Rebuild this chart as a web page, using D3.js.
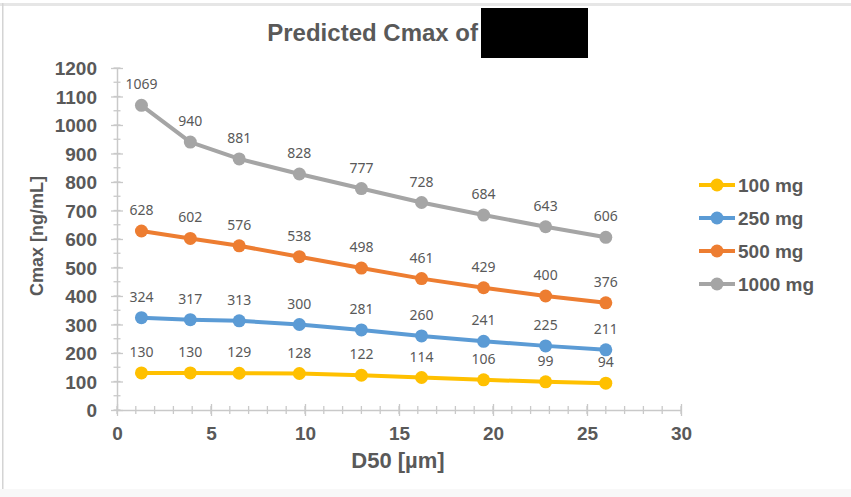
<!DOCTYPE html>
<html>
<head>
<meta charset="utf-8">
<script src="https://cdn.jsdelivr.net/npm/d3@7"></script>
<style>
  html, body { margin: 0; padding: 0; background: #ffffff; }
  svg { display: block; }
</style>
</head>
<body>
<svg id="chart" width="851" height="497"></svg>
<script>
// D50 particle size (µm) for each simulated point
const d50 = [1.3, 3.9, 6.5, 9.7, 13.0, 16.2, 19.5, 22.8, 26.0];

// Predicted Cmax (ng/mL) per dose
const cmax100 = [130, 130, 129, 128, 122, 114, 106, 99, 94];
const cmax250 = [324, 317, 313, 300, 281, 260, 241, 225, 211];
const cmax500 = [628, 602, 576, 538, 498, 461, 429, 400, 376];
const cmax1000 = [1069, 940, 881, 828, 777, 728, 684, 643, 606];

const seriesNames = ["100 mg", "250 mg", "500 mg", "1000 mg"];
const seriesColors = ["#FFC000", "#5B9BD5", "#ED7D31", "#A5A5A5"];

const xTicks = [0, 5, 10, 15, 20, 25, 30];
const yTicks = [0, 100, 200, 300, 400, 500, 600, 700, 800, 900, 1000, 1100, 1200];

const series = [cmax100, cmax250, cmax500, cmax1000].map((vals, i) => ({
  name: seriesNames[i],
  color: seriesColors[i],
  points: vals.map((v, j) => ({ x: d50[j], y: v }))
}));

const svg = d3.select("#chart");
const W = 851, H = 497;
const textColor = "#595959";
const axisColor = "#c9c9c9";
const font = "'Liberation Sans', Arial, sans-serif";

// frame of the chart area
svg.append("rect").attr("x", 0).attr("y", 0).attr("width", W).attr("height", H).attr("fill", "#ffffff");
svg.append("rect").attr("x", 0).attr("y", 3).attr("width", W).attr("height", 3).attr("fill", "#e6e6e6");
svg.append("rect").attr("x", 2).attr("y", 3).attr("width", 1.5).attr("height", H - 3).attr("fill", "#d4d4d4");
svg.append("rect").attr("x", 0).attr("y", 489).attr("width", W).attr("height", 8).attr("fill", "#f8f8f8");

const x = d3.scaleLinear().domain([0, 30]).range([117, 681]);
const y = d3.scaleLinear().domain([0, 1200]).range([410, 68]);

// title
svg.append("text")
  .attr("x", 478).attr("y", 41)
  .attr("text-anchor", "end")
  .attr("font-family", font).attr("font-weight", "bold").attr("font-size", 24)
  .attr("fill", textColor)
  .text("Predicted Cmax of");
svg.append("rect").attr("x", 481).attr("y", 8).attr("width", 107).attr("height", 50).attr("fill", "#000000");

// minor ticks
const gMinor = svg.append("g").attr("stroke", axisColor).attr("stroke-width", 1.3);
d3.range(0, 1201, 50).forEach(v => {
  gMinor.append("line").attr("x1", x(0) - 3.5).attr("x2", x(0) + 3.5).attr("y1", y(v)).attr("y2", y(v));
});
d3.range(0, 31, 1).forEach(v => {
  gMinor.append("line").attr("x1", x(v)).attr("x2", x(v)).attr("y1", y(0) - 4).attr("y2", y(0) + 4);
});

// axes
const yAxis = d3.axisLeft(y).tickValues(yTicks).tickFormat(d3.format("d"))
  .tickSizeInner(6).tickSizeOuter(0).tickPadding(14);
const gy = svg.append("g").attr("transform", `translate(${x(0)},0)`).call(yAxis);
gy.selectAll(".tick line").attr("stroke", axisColor).attr("stroke-width", 1.3).attr("x2", 6).attr("x1", -6);
gy.select(".domain").attr("stroke", axisColor).attr("stroke-width", 1.5);
gy.selectAll(".tick text")
  .attr("font-family", font).attr("font-weight", "bold").attr("font-size", 19)
  .attr("fill", textColor).attr("x", -20).attr("dy", "0.36em");

const xAxis = d3.axisBottom(x).tickValues(xTicks).tickFormat(d3.format("d"))
  .tickSizeInner(6).tickSizeOuter(0).tickPadding(14);
const gx = svg.append("g").attr("transform", `translate(0,${y(0)})`).call(xAxis);
gx.selectAll(".tick line").attr("stroke", axisColor).attr("stroke-width", 1.3).attr("y1", -6).attr("y2", 6);
gx.select(".domain").attr("stroke", axisColor).attr("stroke-width", 1.5);
gx.selectAll(".tick text")
  .attr("font-family", font).attr("font-weight", "bold").attr("font-size", 19)
  .attr("fill", textColor).attr("y", 17).attr("dy", "0.71em");

// axis titles
svg.append("text")
  .attr("transform", `translate(43,${236}) rotate(-90)`)
  .attr("text-anchor", "middle")
  .attr("font-family", font).attr("font-weight", "bold").attr("font-size", 18)
  .attr("fill", textColor)
  .text("Cmax [ng/mL]");
svg.append("text")
  .attr("x", 398).attr("y", 468)
  .attr("text-anchor", "middle")
  .attr("font-family", font).attr("font-weight", "bold").attr("font-size", 22)
  .attr("fill", textColor)
  .text("D50 [µm]");

// series lines, markers and value labels
const line = d3.line().x(d => x(d.x)).y(d => y(d.y));
series.forEach(s => {
  const g = svg.append("g");
  g.append("path").datum(s.points)
    .attr("d", line).attr("fill", "none")
    .attr("stroke", s.color).attr("stroke-width", 4).attr("stroke-linejoin", "round");
  g.selectAll("circle").data(s.points).join("circle")
    .attr("cx", d => x(d.x)).attr("cy", d => y(d.y)).attr("r", 6.5)
    .attr("fill", s.color);
  g.selectAll("text").data(s.points).join("text")
    .attr("x", d => x(d.x)).attr("y", d => y(d.y) - 16)
    .attr("text-anchor", "middle")
    .attr("font-family", "'Noto Sans', 'Open Sans', sans-serif").attr("font-size", 14)
    .attr("fill", textColor)
    .text(d => d.y);
});

// legend
const legend = svg.append("g");
series.forEach((s, i) => {
  const ly = 185 + i * 33;
  legend.append("line").attr("x1", 699).attr("x2", 735).attr("y1", ly).attr("y2", ly)
    .attr("stroke", s.color).attr("stroke-width", 4);
  legend.append("circle").attr("cx", 717).attr("cy", ly).attr("r", 6.5).attr("fill", s.color);
  legend.append("text").attr("x", 738).attr("y", ly).attr("dy", "0.36em")
    .attr("font-family", font).attr("font-weight", "bold").attr("font-size", 19)
    .attr("fill", textColor)
    .text(s.name);
});
</script>
</body>
</html>
